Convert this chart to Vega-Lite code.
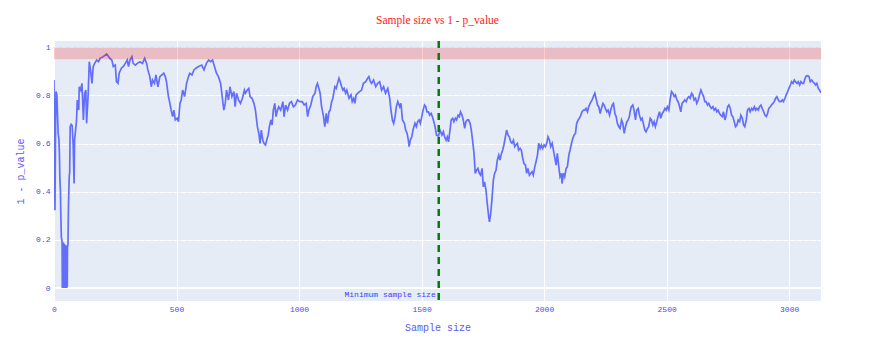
{
  "$schema": "https://vega.github.io/schema/vega-lite/v6.json",
  "width": 767,
  "height": 260,
  "autosize": "none",
  "padding": {"left": 54, "top": 41, "right": 54, "bottom": 54},
  "background": "white",
  "title": {"text": "Sample size vs 1 - p_value", "font": "Liberation Serif", "fontSize": 11.5, "fontWeight": "normal", "color": "#ff2020", "anchor": "middle", "offset": 13},
  "datasets": {
    "curve": [
      {"x":0,"y":0.864},{"x":2,"y":0.55},{"x":4,"y":0.323},{"x":6,"y":0.62},{"x":8,"y":0.816},{"x":10,"y":0.81},{"x":12,"y":0.80},{"x":14,"y":0.73},{"x":17,"y":0.64},{"x":20,"y":0.62},{"x":22,"y":0.56},{"x":24,"y":0.45},{"x":26,"y":0.41},{"x":28,"y":0.30},{"x":30,"y":0.21},{"x":32,"y":0.20},
      {"x":33,"y":0.19},{"x":34,"y":0.0},{"x":35,"y":0.185},{"x":36,"y":0.0},{"x":37,"y":0.19},{"x":38,"y":0.002},{"x":39,"y":0.18},{"x":40,"y":0.0},{"x":41,"y":0.185},{"x":42,"y":0.0},{"x":43,"y":0.18},{"x":44,"y":0.0},{"x":45,"y":0.175},{"x":46,"y":0.0},{"x":47,"y":0.18},{"x":48,"y":0.0},{"x":49,"y":0.175},{"x":50,"y":0.0},{"x":51,"y":0.17},{"x":52,"y":0.0},{"x":53,"y":0.17},{"x":54,"y":0.005},{"x":55,"y":0.17},
      {"x":57,"y":0.18},{"x":59,"y":0.337},{"x":62,"y":0.46},{"x":64,"y":0.48},{"x":66,"y":0.67},{"x":70,"y":0.68},{"x":74,"y":0.675},{"x":78,"y":0.60},{"x":82,"y":0.434},{"x":84,"y":0.614},{"x":92,"y":0.698},{"x":95,"y":0.781},{"x":101,"y":0.739},{"x":103,"y":0.836},{"x":109,"y":0.822},{"x":114,"y":0.850},{"x":120,"y":0.698},{"x":125,"y":0.809},{"x":130,"y":0.822},{"x":133,"y":0.684},{"x":139,"y":0.795},{"x":144,"y":0.940},{"x":149,"y":0.906},{"x":155,"y":0.850},{"x":160,"y":0.920},{"x":166,"y":0.933},{"x":174,"y":0.947},{"x":182,"y":0.940},{"x":188,"y":0.954},{"x":201,"y":0.961},{"x":215,"y":0.972},{"x":223,"y":0.961},{"x":228,"y":0.954},{"x":236,"y":0.947},{"x":242,"y":0.920},{"x":250,"y":0.926},{"x":255,"y":0.857},{"x":261,"y":0.850},{"x":266,"y":0.892},{"x":275,"y":0.913},{"x":283,"y":0.920},{"x":291,"y":0.933},{"x":299,"y":0.947},{"x":304,"y":0.920},{"x":310,"y":0.947},{"x":318,"y":0.961},{"x":323,"y":0.933},{"x":332,"y":0.926},{"x":340,"y":0.933},{"x":351,"y":0.940},{"x":361,"y":0.933},{"x":370,"y":0.954},{"x":378,"y":0.933},{"x":383,"y":0.906},{"x":391,"y":0.878},{"x":397,"y":0.836},{"x":402,"y":0.864},{"x":410,"y":0.850},{"x":416,"y":0.885},{"x":424,"y":0.836},{"x":432,"y":0.878},{"x":440,"y":0.885},{"x":448,"y":0.892},{"x":454,"y":0.878},{"x":459,"y":0.857},{"x":467,"y":0.795},{"x":473,"y":0.767},{"x":478,"y":0.739},{"x":484,"y":0.712},{"x":489,"y":0.739},{"x":495,"y":0.698},{"x":503,"y":0.705},{"x":508,"y":0.691},{"x":514,"y":0.767},{"x":519,"y":0.781},{"x":525,"y":0.822},{"x":533,"y":0.795},{"x":541,"y":0.850},{"x":549,"y":0.878},{"x":554,"y":0.892},{"x":563,"y":0.885},{"x":571,"y":0.906},{"x":579,"y":0.913},{"x":590,"y":0.920},{"x":603,"y":0.926},{"x":612,"y":0.906},{"x":622,"y":0.933},{"x":631,"y":0.947},{"x":639,"y":0.940},{"x":647,"y":0.947},{"x":655,"y":0.920},{"x":663,"y":0.892},{"x":671,"y":0.878},{"x":680,"y":0.850},{"x":688,"y":0.781},{"x":693,"y":0.739},{"x":699,"y":0.767},{"x":704,"y":0.822},{"x":712,"y":0.781},{"x":718,"y":0.836},{"x":726,"y":0.795},{"x":734,"y":0.816},{"x":739,"y":0.753},{"x":745,"y":0.809},{"x":753,"y":0.781},{"x":761,"y":0.767},{"x":769,"y":0.788},{"x":777,"y":0.822},
      {"x":781,"y":0.809},{"x":789,"y":0.822},{"x":795,"y":0.829},{"x":800,"y":0.795},{"x":808,"y":0.788},{"x":816,"y":0.767},{"x":822,"y":0.739},{"x":830,"y":0.670},{"x":836,"y":0.642},{"x":841,"y":0.601},{"x":846,"y":0.656},{"x":852,"y":0.614},{"x":857,"y":0.601},{"x":863,"y":0.594},{"x":868,"y":0.614},{"x":874,"y":0.635},{"x":879,"y":0.670},{"x":885,"y":0.698},{"x":890,"y":0.677},{"x":895,"y":0.739},{"x":901,"y":0.767},{"x":906,"y":0.712},{"x":912,"y":0.739},{"x":917,"y":0.753},{"x":925,"y":0.739},{"x":934,"y":0.774},{"x":939,"y":0.712},{"x":945,"y":0.760},{"x":953,"y":0.739},{"x":961,"y":0.767},{"x":969,"y":0.774},{"x":977,"y":0.753},{"x":985,"y":0.760},{"x":994,"y":0.781},{"x":1002,"y":0.774},{"x":1013,"y":0.774},{"x":1021,"y":0.760},{"x":1029,"y":0.767},{"x":1035,"y":0.712},{"x":1040,"y":0.739},{"x":1048,"y":0.760},{"x":1056,"y":0.795},{"x":1065,"y":0.809},{"x":1070,"y":0.836},{"x":1075,"y":0.850},{"x":1081,"y":0.829},{"x":1086,"y":0.809},{"x":1092,"y":0.753},{"x":1100,"y":0.712},{"x":1105,"y":0.670},{"x":1111,"y":0.725},{"x":1116,"y":0.684},{"x":1122,"y":0.732},{"x":1127,"y":0.739},{"x":1133,"y":0.774},{"x":1138,"y":0.788},{"x":1146,"y":0.836},{"x":1152,"y":0.829},{"x":1157,"y":0.850},{"x":1163,"y":0.871},{"x":1168,"y":0.857},{"x":1174,"y":0.836},{"x":1179,"y":0.822},{"x":1184,"y":0.829},{"x":1190,"y":0.809},{"x":1195,"y":0.822},{"x":1204,"y":0.788},{"x":1212,"y":0.802},{"x":1217,"y":0.774},{"x":1223,"y":0.788},{"x":1228,"y":0.767},{"x":1233,"y":0.802},{"x":1239,"y":0.809},{"x":1247,"y":0.816},{"x":1255,"y":0.822},{"x":1263,"y":0.850},{"x":1272,"y":0.857},{"x":1280,"y":0.871},{"x":1285,"y":0.878},{"x":1291,"y":0.857},{"x":1296,"y":0.850},{"x":1304,"y":0.864},{"x":1313,"y":0.836},{"x":1321,"y":0.850},{"x":1329,"y":0.857},{"x":1337,"y":0.822},{"x":1345,"y":0.836},{"x":1353,"y":0.809},{"x":1362,"y":0.829},{"x":1370,"y":0.788},{"x":1375,"y":0.739},{"x":1381,"y":0.698},{"x":1386,"y":0.684},{"x":1392,"y":0.712},{"x":1397,"y":0.753},{"x":1403,"y":0.774},{"x":1411,"y":0.753},{"x":1416,"y":0.767},{"x":1422,"y":0.698},{"x":1430,"y":0.684},{"x":1435,"y":0.656},{"x":1441,"y":0.642},{"x":1446,"y":0.614},{"x":1449,"y":0.587},{"x":1454,"y":0.614},{"x":1460,"y":0.628},{"x":1465,"y":0.656},{"x":1473,"y":0.684},{"x":1479,"y":0.670},{"x":1484,"y":0.691},{"x":1490,"y":0.698},{"x":1495,"y":0.684},{"x":1501,"y":0.712},{"x":1506,"y":0.739},{"x":1512,"y":0.760},{"x":1517,"y":0.753},{"x":1522,"y":0.732},{"x":1528,"y":0.732},{"x":1533,"y":0.718},{"x":1539,"y":0.725},{"x":1544,"y":0.712},{"x":1550,"y":0.691},{"x":1555,"y":0.670},{"x":1561,"y":0.635},{"x":1569,"y":0.631},
      {"x":1575,"y":0.656},{"x":1583,"y":0.635},{"x":1589,"y":0.649},{"x":1594,"y":0.628},{"x":1600,"y":0.614},{"x":1605,"y":0.628},{"x":1610,"y":0.607},{"x":1616,"y":0.656},{"x":1621,"y":0.698},{"x":1627,"y":0.705},{"x":1632,"y":0.691},{"x":1638,"y":0.705},{"x":1643,"y":0.698},{"x":1649,"y":0.718},{"x":1654,"y":0.712},{"x":1659,"y":0.732},{"x":1665,"y":0.718},{"x":1670,"y":0.698},{"x":1676,"y":0.663},{"x":1681,"y":0.691},{"x":1687,"y":0.698},{"x":1692,"y":0.698},{"x":1698,"y":0.684},{"x":1703,"y":0.656},{"x":1708,"y":0.614},{"x":1714,"y":0.559},{"x":1719,"y":0.476},{"x":1725,"y":0.490},{"x":1730,"y":0.497},{"x":1736,"y":0.476},{"x":1741,"y":0.469},{"x":1747,"y":0.497},{"x":1752,"y":0.420},{"x":1757,"y":0.441},{"x":1763,"y":0.406},{"x":1768,"y":0.351},{"x":1774,"y":0.295},{"x":1777,"y":0.275},{"x":1782,"y":0.309},{"x":1787,"y":0.365},{"x":1793,"y":0.448},{"x":1798,"y":0.476},{"x":1804,"y":0.490},{"x":1809,"y":0.531},{"x":1815,"y":0.552},{"x":1820,"y":0.531},{"x":1826,"y":0.559},{"x":1831,"y":0.573},{"x":1836,"y":0.594},{"x":1842,"y":0.628},{"x":1847,"y":0.656},{"x":1853,"y":0.635},{"x":1858,"y":0.628},{"x":1864,"y":0.607},{"x":1869,"y":0.601},{"x":1875,"y":0.614},{"x":1880,"y":0.587},{"x":1885,"y":0.594},{"x":1891,"y":0.601},{"x":1896,"y":0.573},{"x":1902,"y":0.580},{"x":1907,"y":0.573},{"x":1913,"y":0.538},{"x":1918,"y":0.517},{"x":1924,"y":0.510},{"x":1929,"y":0.476},{"x":1934,"y":0.497},{"x":1940,"y":0.469},{"x":1945,"y":0.476},{"x":1951,"y":0.483},{"x":1956,"y":0.469},{"x":1962,"y":0.503},{"x":1967,"y":0.524},{"x":1973,"y":0.552},{"x":1978,"y":0.601},{"x":1984,"y":0.580},{"x":1989,"y":0.594},{"x":1994,"y":0.580},{"x":2000,"y":0.594},{"x":2005,"y":0.587},{"x":2011,"y":0.601},{"x":2016,"y":0.628},{"x":2022,"y":0.614},{"x":2027,"y":0.587},{"x":2033,"y":0.601},{"x":2038,"y":0.573},{"x":2043,"y":0.545},{"x":2049,"y":0.510},{"x":2054,"y":0.559},{"x":2060,"y":0.503},{"x":2065,"y":0.462},{"x":2071,"y":0.476},{"x":2073,"y":0.434},{"x":2079,"y":0.476},{"x":2084,"y":0.462},{"x":2090,"y":0.497},{"x":2095,"y":0.503},{"x":2101,"y":0.552},{"x":2106,"y":0.573},{"x":2112,"y":0.601},{"x":2117,"y":0.621},{"x":2122,"y":0.635},{"x":2128,"y":0.642},{"x":2133,"y":0.684},{"x":2139,"y":0.698},{"x":2144,"y":0.705},{"x":2150,"y":0.718},{"x":2155,"y":0.732},{"x":2161,"y":0.739},{"x":2166,"y":0.739},{"x":2171,"y":0.746},{"x":2177,"y":0.732},{"x":2182,"y":0.753},{"x":2188,"y":0.767},{"x":2196,"y":0.781},{"x":2201,"y":0.795},{"x":2207,"y":0.809},{"x":2212,"y":0.788},{"x":2218,"y":0.760},{"x":2223,"y":0.753},{"x":2229,"y":0.725},{"x":2234,"y":0.746},{"x":2240,"y":0.767},{"x":2245,"y":0.760},{"x":2250,"y":0.746},{"x":2256,"y":0.732},{"x":2261,"y":0.739},{"x":2267,"y":0.718},{"x":2272,"y":0.739},{"x":2278,"y":0.760},{"x":2283,"y":0.767},{"x":2289,"y":0.725},{"x":2294,"y":0.712},{"x":2299,"y":0.684},{"x":2305,"y":0.670},{"x":2310,"y":0.663},{"x":2316,"y":0.698},{"x":2321,"y":0.684},{"x":2327,"y":0.642},{"x":2332,"y":0.670},{"x":2338,"y":0.691},{"x":2343,"y":0.698},{"x":2348,"y":0.712},
      {"x":2351,"y":0.732},{"x":2356,"y":0.753},{"x":2362,"y":0.760},{"x":2367,"y":0.739},{"x":2373,"y":0.698},{"x":2378,"y":0.739},{"x":2384,"y":0.746},{"x":2389,"y":0.718},{"x":2395,"y":0.698},{"x":2400,"y":0.705},{"x":2405,"y":0.684},{"x":2411,"y":0.656},{"x":2416,"y":0.649},{"x":2422,"y":0.663},{"x":2427,"y":0.670},{"x":2433,"y":0.705},{"x":2438,"y":0.698},{"x":2444,"y":0.677},{"x":2449,"y":0.691},{"x":2454,"y":0.670},{"x":2460,"y":0.691},{"x":2465,"y":0.712},{"x":2471,"y":0.732},{"x":2476,"y":0.705},{"x":2482,"y":0.725},{"x":2487,"y":0.732},{"x":2493,"y":0.746},{"x":2498,"y":0.739},{"x":2503,"y":0.753},{"x":2509,"y":0.739},{"x":2514,"y":0.781},{"x":2520,"y":0.816},{"x":2525,"y":0.809},{"x":2531,"y":0.795},{"x":2536,"y":0.802},{"x":2542,"y":0.781},{"x":2547,"y":0.774},{"x":2553,"y":0.753},{"x":2558,"y":0.732},{"x":2563,"y":0.767},{"x":2569,"y":0.774},{"x":2574,"y":0.781},{"x":2580,"y":0.774},{"x":2585,"y":0.788},{"x":2591,"y":0.795},{"x":2596,"y":0.788},{"x":2602,"y":0.809},{"x":2607,"y":0.802},{"x":2612,"y":0.781},{"x":2618,"y":0.788},{"x":2623,"y":0.767},{"x":2629,"y":0.781},{"x":2634,"y":0.802},{"x":2640,"y":0.822},{"x":2645,"y":0.809},{"x":2651,"y":0.795},{"x":2656,"y":0.774},{"x":2661,"y":0.774},{"x":2667,"y":0.760},{"x":2672,"y":0.767},{"x":2678,"y":0.753},{"x":2683,"y":0.746},{"x":2689,"y":0.753},{"x":2694,"y":0.739},{"x":2700,"y":0.746},{"x":2705,"y":0.732},{"x":2710,"y":0.739},{"x":2716,"y":0.725},{"x":2721,"y":0.718},{"x":2727,"y":0.712},{"x":2732,"y":0.732},{"x":2738,"y":0.698},{"x":2743,"y":0.718},{"x":2749,"y":0.753},{"x":2754,"y":0.760},{"x":2760,"y":0.746},{"x":2765,"y":0.718},{"x":2770,"y":0.712},{"x":2776,"y":0.691},{"x":2781,"y":0.670},{"x":2787,"y":0.677},{"x":2792,"y":0.698},{"x":2798,"y":0.691},{"x":2803,"y":0.718},{"x":2809,"y":0.705},{"x":2814,"y":0.677},{"x":2819,"y":0.670},{"x":2825,"y":0.698},{"x":2830,"y":0.739},{"x":2836,"y":0.746},{"x":2841,"y":0.732},{"x":2847,"y":0.746},{"x":2852,"y":0.739},{"x":2858,"y":0.753},{"x":2863,"y":0.739},{"x":2868,"y":0.746},{"x":2874,"y":0.739},{"x":2879,"y":0.753},{"x":2885,"y":0.760},{"x":2890,"y":0.746},{"x":2896,"y":0.732},{"x":2901,"y":0.718},{"x":2907,"y":0.712},{"x":2912,"y":0.725},{"x":2917,"y":0.746},{"x":2923,"y":0.753},{"x":2928,"y":0.760},{"x":2934,"y":0.767},{"x":2939,"y":0.774},{"x":2945,"y":0.788},{"x":2950,"y":0.795},{"x":2956,"y":0.781},{"x":2961,"y":0.774},{"x":2966,"y":0.774},{"x":2972,"y":0.781},{"x":2977,"y":0.774},{"x":2983,"y":0.788},{"x":2988,"y":0.802},{"x":2994,"y":0.816},{"x":2999,"y":0.829},{"x":3005,"y":0.843},{"x":3010,"y":0.857},{"x":3016,"y":0.850},{"x":3021,"y":0.864},{"x":3026,"y":0.857},{"x":3032,"y":0.850},{"x":3037,"y":0.857},{"x":3043,"y":0.843},{"x":3048,"y":0.857},{"x":3054,"y":0.850},{"x":3059,"y":0.850},{"x":3065,"y":0.871},{"x":3070,"y":0.881},{"x":3075,"y":0.882},{"x":3081,"y":0.878},{"x":3086,"y":0.857},{"x":3092,"y":0.864},{"x":3097,"y":0.857},{"x":3103,"y":0.850},{"x":3108,"y":0.843},{"x":3113,"y":0.850},{"x":3119,"y":0.829},{"x":3124,"y":0.822},{"x":3130,"y":0.811}
    ],
    "band": [{"y": 0.95, "y2": 1.0}],
    "minsize": [{"x": 1570, "label": "Minimum sample size", "ypos": -0.029}]
  },
  "layer": [
    {
      "data": {"values": [{"z": 0}]},
      "mark": {"type": "rule", "color": "white", "strokeWidth": 2},
      "encoding": {"y": {"field": "z", "type": "quantitative"}}
    },
    {
      "data": {"name": "curve"},
      "mark": {"type": "line", "color": "#636efa", "strokeWidth": 1.7, "clip": true},
      "encoding": {
        "x": {"field": "x", "type": "quantitative", "scale": {"domain": [0, 3130], "nice": false, "zero": false},
              "axis": {"values": [0, 500, 1000, 1500, 2000, 2500, 3000], "format": "d", "title": "Sample size", "titleY": 26, "titleBaseline": "middle", "titleAnchor": "middle", "labelFlush": false}},
        "y": {"field": "y", "type": "quantitative", "scale": {"domain": [-0.054, 1.026], "nice": false, "zero": false},
              "axis": {"values": [0, 0.2, 0.4, 0.6, 0.8, 1], "format": "~g", "title": "1 - p_value", "titleX": -34, "titleY": 130, "titleBaseline": "middle", "titleAnchor": "middle", "gridDash": [6, 1]}}
      }
    },
    {
      "data": {"name": "band"},
      "mark": {"type": "rect", "color": "red", "opacity": 0.2},
      "encoding": {
        "y": {"field": "y", "type": "quantitative"},
        "y2": {"field": "y2"}
      }
    },
    {
      "data": {"name": "minsize"},
      "mark": {"type": "rule", "color": "green", "strokeWidth": 2.5, "strokeDash": [7, 5]},
      "encoding": {"x": {"field": "x", "type": "quantitative"}}
    },
    {
      "data": {"name": "minsize"},
      "mark": {"type": "text", "font": "Liberation Mono", "fontSize": 8, "color": "#4040ff", "align": "right", "baseline": "middle", "dx": -3},
      "encoding": {
        "x": {"field": "x", "type": "quantitative"},
        "y": {"field": "ypos", "type": "quantitative"},
        "text": {"field": "label"}
      }
    }
  ],
  "config": {
    "view": {"fill": "#E5ECF6", "stroke": null},
    "axis": {
      "grid": true, "gridColor": "white", "gridWidth": 1,
      "domain": false, "ticks": false,
      "labelFont": "Liberation Mono", "labelFontSize": 8, "labelColor": "#4a4aee", "labelPadding": 4,
      "titleFont": "Liberation Mono", "titleFontSize": 10, "titleFontWeight": "normal", "titleColor": "#5a5af0"
    }
  }
}
